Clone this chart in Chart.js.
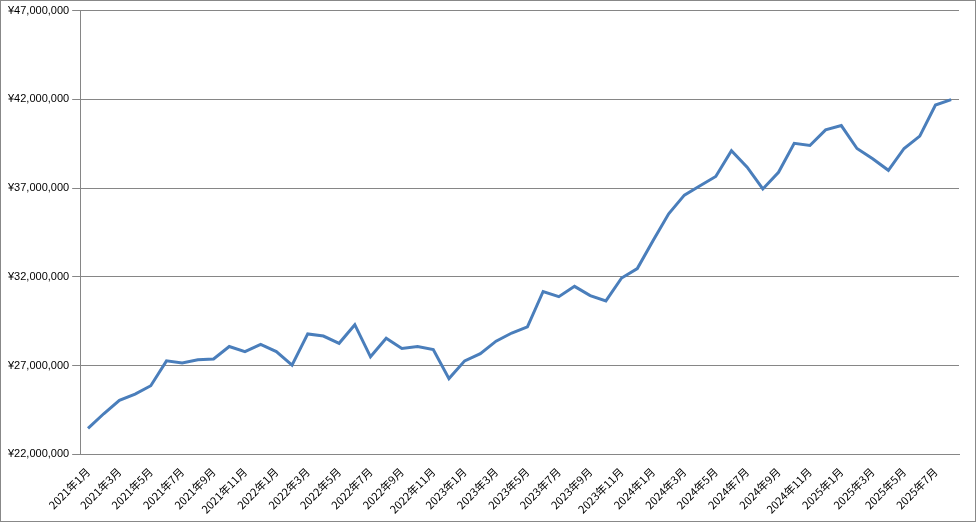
<!DOCTYPE html>
<html><head><meta charset="utf-8">
<script src="https://cdn.jsdelivr.net/npm/chart.js@4/dist/chart.umd.min.js"></script>
<style>html,body{margin:0;padding:0;background:#fff}#w{width:974px;height:520px;border:1px solid #888;position:relative}</style>
</head><body><div id="w"><canvas id="c"></canvas></div>
<script>
const startYear = 2021, monthCount = 56;
const categories = [];
for (let i = 0; i < monthCount; i++) { categories.push((startYear + Math.floor(i/12)) + '年' + (i%12+1) + '月'); }
const values = [23.46,24.28,25.04,25.39,25.86,27.26,27.14,27.32,27.37,28.07,27.78,28.19,27.78,27.02,28.78,28.66,28.25,29.30,27.49,28.54,27.96,28.07,27.90,26.26,27.26,27.67,28.37,28.83,29.18,31.17,30.88,31.46,30.94,30.64,31.93,32.46,34.03,35.55,36.60,37.13,37.65,39.11,38.18,36.95,37.89,39.52,39.40,40.28,40.52,39.23,38.65,38.00,39.23,39.93,41.68,41.98].map(v=>Math.round(v*1e6));
const yMin = 22000000, yMax = 47000000, yStep = 5000000;
new Chart(document.getElementById('c'), {
  type:'line',
  data:{labels:categories,datasets:[{data:values,borderColor:'#4a7ebb',borderWidth:3,pointRadius:0,tension:0}]},
  options:{responsive:true,maintainAspectRatio:false,animation:false,
    layout:{padding:{left:4,right:16,top:8,bottom:2}},
    plugins:{legend:{display:false},tooltip:{enabled:false}},
    scales:{
      x:{offset:true,grid:{display:false},border:{color:'#868686'},
        ticks:{autoSkip:false,maxRotation:45,minRotation:45,color:'#000',font:{size:11,family:'Noto Sans CJK JP'},
          callback:(v,i)=>i%2===0?categories[i]:''}},
      y:{min:yMin,max:yMax,grid:{color:'#868686'},border:{color:'#868686'},
        ticks:{stepSize:yStep,color:'#000',font:{size:11,family:'Liberation Sans'},
          callback:v=>'¥'+v.toLocaleString('en-US')}}
    }}
});
</script></body></html>
